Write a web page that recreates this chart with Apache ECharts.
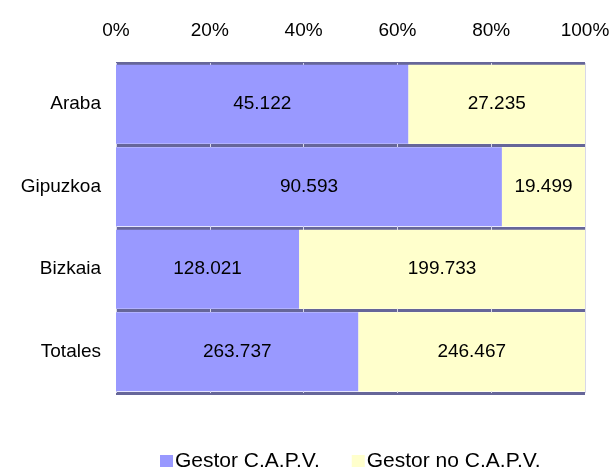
<!DOCTYPE html>
<html>
<head>
<meta charset="utf-8">
<script src="https://cdn.jsdelivr.net/npm/echarts@6/dist/echarts.min.js"></script>
<style>
  html, body { margin: 0; padding: 0; background: #fff; }
  #chart { width: 613px; height: 467px; }
</style>
</head>
<body>
<div id="chart"></div>
<script>
// datos
var categorias = ['Araba', 'Gipuzkoa', 'Bizkaia', 'Totales'];
var gestorCapv = [45122, 90593, 128021, 263737];
var gestorNoCapv = [27235, 19499, 199733, 246467];
var ticksX = [0, 20, 40, 60, 80, 100];

function fmt(n) {
  return String(n).replace(/\B(?=(\d{3})+(?!\d))/g, '.');
}
function pct(arr, i) {
  return arr[i] / (gestorCapv[i] + gestorNoCapv[i]) * 100;
}

var fuente = 'Liberation Sans, Arial, sans-serif';
var myChart = echarts.init(document.getElementById('chart'));

var option = {
  animation: false,
  grid: { left: 116, right: 28, top: 63, bottom: 74 },
  legend: {
    top: 446,
    left: 155,
    itemWidth: 13,
    itemHeight: 13,
    itemGap: 32,
    icon: 'rect',
    textStyle: { fontFamily: fuente, fontSize: 21, color: '#000', padding: [0, 0, 6, -3] },
    data: ['Gestor C.A.P.V.', 'Gestor no C.A.P.V.']
  },
  xAxis: {
    type: 'value',
    position: 'top',
    min: ticksX[0],
    max: ticksX[ticksX.length - 1],
    interval: 20,
    axisLine: { show: false },
    axisTick: { show: false },
    splitLine: { show: true, lineStyle: { color: '#d8d8e8', width: 1 } },
    axisLabel: {
      formatter: '{value}%',
      margin: 23,
      fontFamily: fuente,
      fontSize: 19,
      color: '#000'
    }
  },
  yAxis: {
    type: 'category',
    data: categorias,
    inverse: true,
    axisLine: { show: false },
    axisTick: { show: false },
    splitLine: { show: true, lineStyle: { color: '#666699', width: 3 } },
    axisLabel: {
      margin: 15,
      fontFamily: fuente,
      fontSize: 19,
      color: '#000'
    }
  },
  series: [
    {
      name: 'Gestor C.A.P.V.',
      type: 'bar',
      stack: 'total',
      barCategoryGap: '4%',
      itemStyle: { color: '#9999FF' },
      label: {
        show: true,
        position: 'inside',
        fontFamily: fuente,
        fontSize: 19,
        color: '#000',
        formatter: function (p) { return fmt(gestorCapv[p.dataIndex]); }
      },
      data: categorias.map(function (c, i) { return pct(gestorCapv, i); })
    },
    {
      name: 'Gestor no C.A.P.V.',
      type: 'bar',
      stack: 'total',
      barCategoryGap: '4%',
      itemStyle: { color: '#FFFFCC' },
      label: {
        show: true,
        position: 'inside',
        fontFamily: fuente,
        fontSize: 19,
        color: '#000',
        formatter: function (p) { return fmt(gestorNoCapv[p.dataIndex]); }
      },
      data: categorias.map(function (c, i) { return pct(gestorNoCapv, i); })
    }
  ]
};

myChart.setOption(option);
</script>
</body>
</html>
